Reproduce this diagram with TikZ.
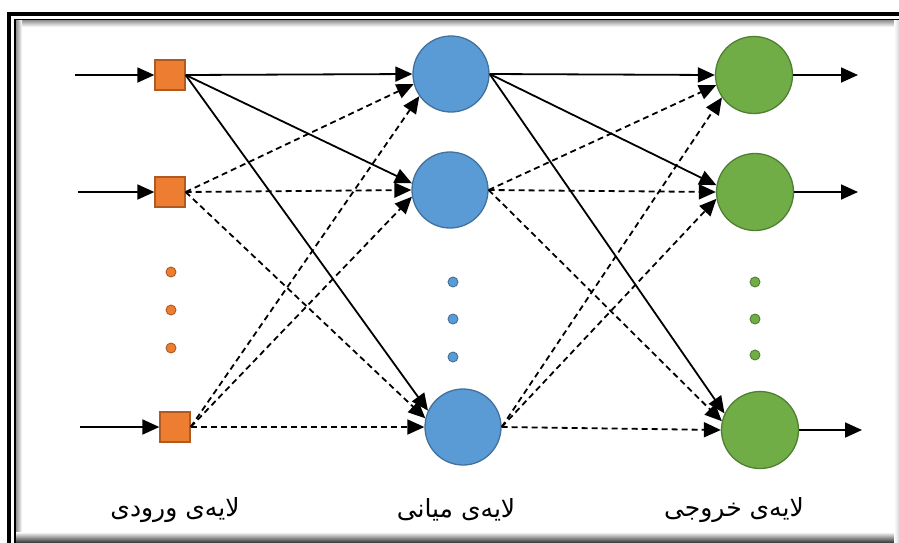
\documentclass[tikz,border=0pt]{standalone}
\usepackage{fontspec}
\newfontfamily\arabicfont[Script=Arabic]{DejaVu Sans}
\TeXXeTstate=1
\usetikzlibrary{arrows.meta}

\definecolor{inFill}{HTML}{ED7D31}
\definecolor{inLine}{HTML}{AE5A21}
\definecolor{hidFill}{HTML}{5B9BD5}
\definecolor{hidLine}{HTML}{41719C}
\definecolor{outFill}{HTML}{70AD47}
\definecolor{outLine}{HTML}{507E32}

\tikzset{
  inbox/.style={draw=inLine, fill=inFill, line width=1.3pt, minimum size=30pt, inner sep=0pt},
  hidnode/.style={circle, draw=hidLine, fill=hidFill, line width=1.3pt, minimum size=76pt, inner sep=0pt},
  outnode/.style={circle, draw=outLine, fill=outFill, line width=1.3pt, minimum size=77pt, inner sep=0pt},
  indot/.style={circle, draw=inLine, fill=inFill, line width=0.9pt, minimum size=10pt, inner sep=0pt},
  hiddot/.style={circle, draw=hidLine, fill=hidFill, line width=0.9pt, minimum size=10pt, inner sep=0pt},
  outdot/.style={circle, draw=outLine, fill=outFill, line width=0.9pt, minimum size=10pt, inner sep=0pt},
  link/.style={line width=1.8pt, -{Triangle[length=17pt,width=15pt]}},
  dlink/.style={link, dash pattern=on 6pt off 4pt},
  layerlabel/.style={font=\arabicfont\fontsize{25}{28}\selectfont, inner sep=0pt}
}

\begin{document}
\begin{tikzpicture}[x=1pt,y=-1pt]
\useasboundingbox (0,0) rectangle (899,542);
\fill[white] (0,0) rectangle (899,542);

% framed border with inner shadow
\shade[top color=black!50, bottom color=white] (15,19) rectangle (899,27);
\shade[left color=black!50, right color=white] (15,19) rectangle (22,542);
\shade[top color=white, bottom color=black!75] (15,532) rectangle (899,542);
\shade[left color=white, right color=black!15] (894,19) rectangle (899,542);
\draw[line width=4pt] (9,14) rectangle (930,580);
\draw[line width=1.3pt] (15,19.5) rectangle (925,575);

% input layer
\node[inbox] (i1) at (170,75) {};
\node[inbox] (i2) at (170,192) {};
\node[inbox] (i3) at (175,427) {};
\node[indot] (id1) at (171,272) {};
\node[indot] (id2) at (171,310) {};
\node[indot] (id3) at (171,348) {};

% hidden layer
\node[hidnode] (h1) at (451,74) {};
\node[hidnode] (h2) at (450,190) {};
\node[hidnode] (h3) at (463,427) {};
\node[hiddot] (hd1) at (453,282) {};
\node[hiddot] (hd2) at (453,319) {};
\node[hiddot] (hd3) at (453,357) {};

% output layer
\node[outnode] (o1) at (754,75) {};
\node[outnode] (o2) at (755,192) {};
\node[outnode] (o3) at (760,430) {};
\node[outdot] (od1) at (755,282) {};
\node[outdot] (od2) at (755,319) {};
\node[outdot] (od3) at (755,355) {};

% free ends of the input and output arrows
\coordinate (s1) at (75,75);
\coordinate (s2) at (78,192);
\coordinate (s3) at (80,427);
\coordinate (e1) at (858,75);
\coordinate (e2) at (858,192);
\coordinate (e3) at (862,430);

\draw[link] (s1) -- (i1.west);
\draw[link] (s2) -- (i2.west);
\draw[link] (s3) -- (i3.west);
\draw[link] (o1.east) -- (e1);
\draw[link] (o2.east) -- (e2);
\draw[link] (o3.east) -- (e3);

% input -> hidden
\draw[link]  (i1.east) -- (h1.west);
\draw[link]  (i1.east) -- (h2.170);
\draw[link]  (i1.east) -- (h3.155);
\draw[dlink] (i2.east) -- (h1.195);
\draw[dlink] (i2.east) -- (h2.west);
\draw[dlink] (i2.east) -- (h3.167);
\draw[dlink] (i3.east) -- (h1.215);
\draw[dlink] (i3.east) -- (h2.190);
\draw[dlink] (i3.east) -- (h3.west);

% hidden -> output
\draw[link]  (h1.east) -- (o1.west);
\draw[link]  (h1.east) -- (o2.170);
\draw[link]  (h1.east) -- (o3.155);
\draw[dlink] (h2.east) -- (o1.195);
\draw[dlink] (h2.east) -- (o2.west);
\draw[dlink] (h2.east) -- (o3.167);
\draw[dlink] (h3.east) -- (o1.215);
\draw[dlink] (h3.east) -- (o2.190);
\draw[dlink] (h3.east) -- (o3.west);

% layer names
\node[layerlabel] (l1) at (175,510) {\beginR لایەی ورودی\endR};
\node[layerlabel] (l2) at (456,510) {\beginR لایەی میانی\endR};
\node[layerlabel] (l3) at (734,510) {\beginR لایەی خروجی\endR};
\end{tikzpicture}
\end{document}
